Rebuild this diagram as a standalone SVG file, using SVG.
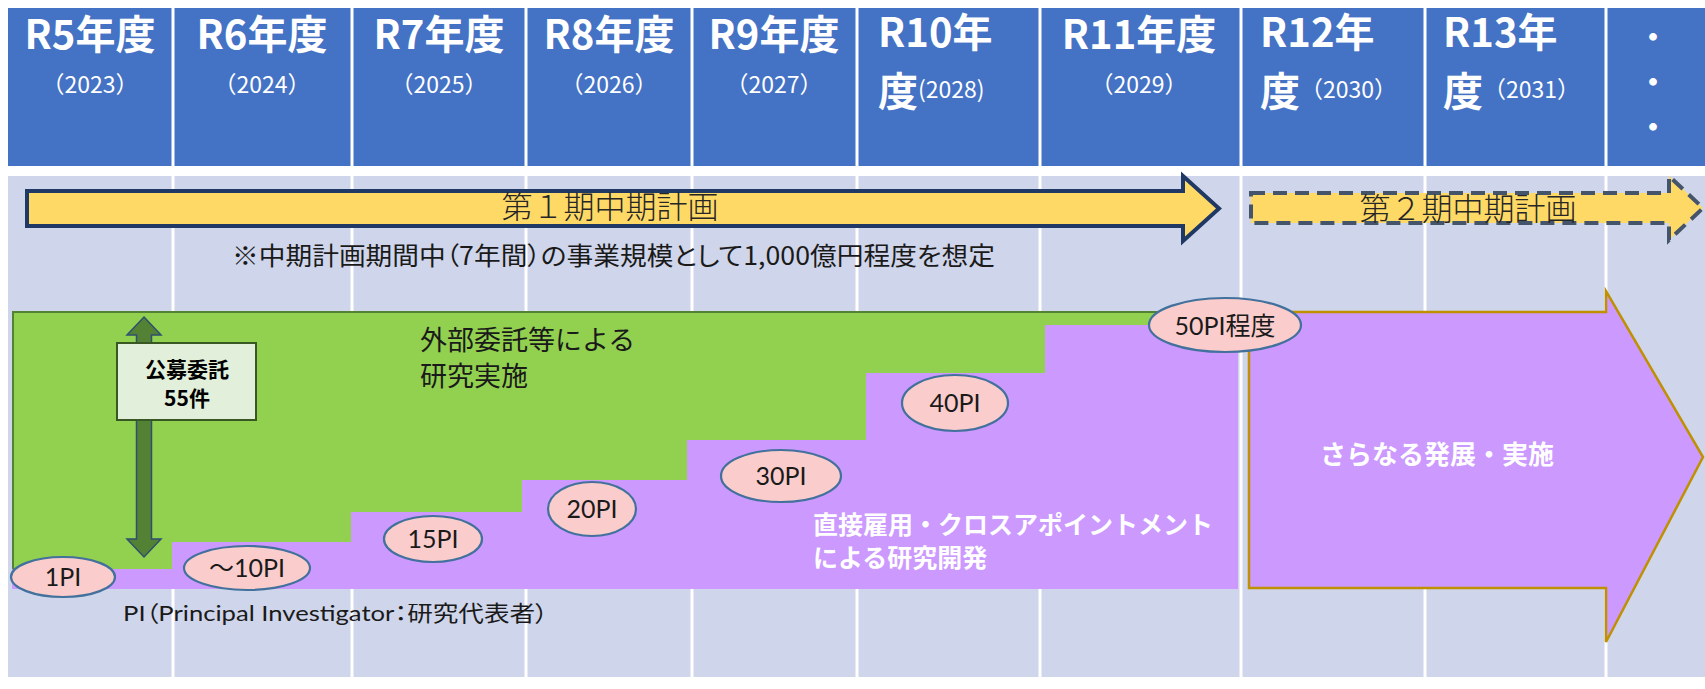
<svg xmlns="http://www.w3.org/2000/svg" width="1705" height="689" viewBox="0 0 1705 689">
<defs>
<style>
.hd{font-family:"Noto Sans CJK JP",sans-serif;font-weight:bold;font-size:40px;fill:#fff}
.dot{font-family:"Noto Sans CJK JP",sans-serif;font-weight:bold;font-size:30px;fill:#fff;text-anchor:middle}
.yr{font-family:"Noto Sans CJK JP",sans-serif;font-size:23px;fill:#fff;font-weight:normal}
.div{stroke:#fff;stroke-width:3}
.plan{font-family:"Noto Sans CJK JP",sans-serif;font-size:31px;fill:#262626;font-weight:300}
.ell{fill:#FACCCB;stroke:#41719C;stroke-width:2.2}
.pi{font-family:Lato,"Noto Sans CJK JP",sans-serif;font-size:25px;fill:#1a1a1a;text-anchor:middle}
.jp{font-family:"Noto Sans CJK JP",sans-serif}
.palt{font-feature-settings:"palt"}
</style>
</defs>
<rect width="1705" height="689" fill="#fff"/>
<g id="table">
<rect x="8" y="8" width="1697" height="158" fill="#4472C4"/>
<rect x="8" y="176" width="1697" height="501" fill="#CFD5EA"/>
<g class="div">
<line x1="173" y1="8" x2="173" y2="677"/>
<line x1="352" y1="8" x2="352" y2="677"/>
<line x1="526" y1="8" x2="526" y2="677"/>
<line x1="692" y1="8" x2="692" y2="677"/>
<line x1="857" y1="8" x2="857" y2="677"/>
<line x1="1040" y1="8" x2="1040" y2="677"/>
<line x1="1241" y1="8" x2="1241" y2="677"/>
<line x1="1425" y1="8" x2="1425" y2="677"/>
<line x1="1606" y1="8" x2="1606" y2="677"/>
</g>
</g>
<g id="header">
<g id="h-r5"><text class="hd" x="90" y="49" text-anchor="middle">R5年度</text><text class="yr" x="90" y="93" text-anchor="middle">（2023）</text></g>
<g id="h-r6"><text class="hd" x="262" y="49" text-anchor="middle">R6年度</text><text class="yr" x="262" y="93" text-anchor="middle">（2024）</text></g>
<g id="h-r7"><text class="hd" x="439" y="49" text-anchor="middle">R7年度</text><text class="yr" x="439" y="93" text-anchor="middle">（2025）</text></g>
<g id="h-r8"><text class="hd" x="609" y="49" text-anchor="middle">R8年度</text><text class="yr" x="609" y="93" text-anchor="middle">（2026）</text></g>
<g id="h-r9"><text class="hd" x="774" y="49" text-anchor="middle">R9年度</text><text class="yr" x="774" y="93" text-anchor="middle">（2027）</text></g>
<g id="h-r10"><text class="hd" x="878" y="47">R10年</text><text class="hd" x="878" y="106">度<tspan class="yr" y="98">(2028)</tspan></text></g>
<g id="h-r11"><text class="hd" x="1139" y="49" text-anchor="middle">R11年度</text><text class="yr" x="1139" y="93" text-anchor="middle">（2029）</text></g>
<g id="h-r12"><text class="hd" x="1260" y="47">R12年</text><text class="hd" x="1260" y="106">度<tspan class="yr" y="98">（2030）</tspan></text></g>
<g id="h-r13"><text class="hd" x="1443" y="47">R13年</text><text class="hd" x="1443" y="106">度<tspan class="yr" y="98">（2031）</tspan></text></g>
<g id="h-more"><text class="dot" x="1653" y="48">・</text><text class="dot" x="1653" y="93">・</text><text class="dot" x="1653" y="138">・</text></g>
</g>
<g id="plan1">
<polygon points="27,191 1183,191 1183,176 1219,208.5 1183,241 1183,226 27,226" fill="#FFD966" stroke="#1F3864" stroke-width="4" stroke-linejoin="miter"/>
<text class="plan" x="610" y="218" text-anchor="middle">第１期中期計画</text>
</g>
<g id="note">
<text class="jp palt" x="232" y="265" font-size="25" fill="#1a1a1a" textLength="763" lengthAdjust="spacingAndGlyphs">※中期計画期間中（7年間）の事業規模として1,000億円程度を想定</text>
</g>
<g id="plan2">
<polygon points="1251,193 1669,193 1669,176 1703,208 1669,240 1669,223 1251,223" fill="#FFD966" stroke="#44546A" stroke-width="4" stroke-dasharray="14,8"/>
<text class="plan" x="1468" y="220" text-anchor="middle">第２期中期計画</text>
</g>
<g id="next">
<polygon points="1249,312 1606,312 1606,291 1703,457 1606,642 1606,588 1249,588" fill="#CC99FF" stroke="#BF9000" stroke-width="2.5"/>
<text class="jp" x="1437" y="464" font-size="26" font-weight="bold" fill="#fff" text-anchor="middle">さらなる発展・実施</text>
</g>
<g id="external">
<rect x="13" y="312" width="1224" height="276" fill="#92D050" stroke="#548235" stroke-width="2"/>
<text class="jp" font-size="27" fill="#1a1a1a"><tspan x="420" y="350">外部委託等による</tspan><tspan x="420" y="386">研究実施</tspan></text>
</g>
<g id="direct">
<polygon points="12,569 172,569 172,542 351,542 351,512 522,512 522,480 687,480 687,440 866,440 866,373 1045,373 1045,325 1238,325 1238,589 12,589" fill="#CC99FF"/>
<text class="jp" font-size="25" font-weight="bold" fill="#fff"><tspan x="813" y="534">直接雇用・クロスアポイントメント</tspan><tspan x="813" y="567">による研究開発</tspan></text>
</g>
<g id="koubo">
<polygon points="144,317 161,335 151.5,335 151.5,539 161,539 144,557 127,539 136.5,539 136.5,335 127,335" fill="#548235" stroke="#2F4F6F" stroke-width="1.5"/>
<rect x="117" y="343" width="139" height="77" fill="#E2EFDA" stroke="#385723" stroke-width="2"/>
<text class="jp" font-size="21" font-weight="bold" fill="#000" text-anchor="middle"><tspan x="187" y="377">公募委託</tspan><tspan x="187" y="406">55件</tspan></text>
</g>
<g id="pi1"><ellipse class="ell" cx="63" cy="577" rx="52" ry="20"/><text class="pi" x="63" y="586">1PI</text></g>
<g id="pi10"><ellipse class="ell" cx="247" cy="568" rx="63" ry="22"/><text class="pi" x="247" y="577">～10PI</text></g>
<g id="pi15"><ellipse class="ell" cx="433" cy="539" rx="49" ry="23"/><text class="pi" x="433" y="548">15PI</text></g>
<g id="pi20"><ellipse class="ell" cx="592" cy="509" rx="44" ry="27"/><text class="pi" x="592" y="518">20PI</text></g>
<g id="pi30"><ellipse class="ell" cx="781" cy="476" rx="60" ry="26"/><text class="pi" x="781" y="485">30PI</text></g>
<g id="pi40"><ellipse class="ell" cx="955" cy="403" rx="53" ry="28"/><text class="pi" x="955" y="412">40PI</text></g>
<g id="pi50"><ellipse class="ell" cx="1225" cy="325" rx="76" ry="27"/><text class="pi" x="1225" y="335" font-size="27">50PI程度</text></g>
<g id="pi-note">
<text class="palt" x="123" y="621" font-family="Lato,'Noto Sans CJK JP',sans-serif" font-size="22" fill="#1a1a1a" textLength="425" lengthAdjust="spacingAndGlyphs">PI（Principal Investigator：研究代表者）</text>
</g>
</svg>
